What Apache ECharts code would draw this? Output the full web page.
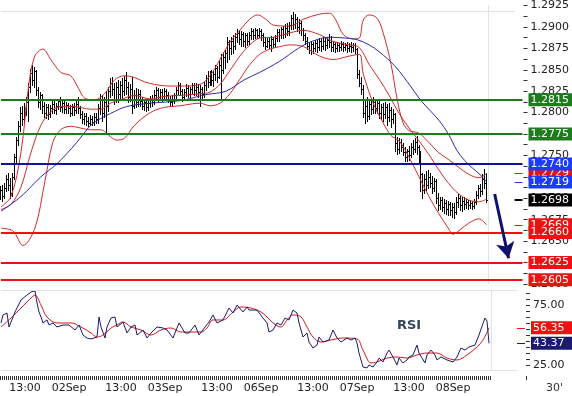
<!DOCTYPE html>
<html><head><meta charset="utf-8">
<script src="https://cdn.jsdelivr.net/npm/echarts@6/dist/echarts.min.js"></script>
<style>html,body{margin:0;padding:0;background:#fff}#c{width:572px;height:396px}</style>
</head><body><div id="c"></div>
<script>
// ---- data ----
const days = ['01Sep','02Sep','03Sep','06Sep','07Sep','08Sep'];
const firstSlot = 14;      // 01Sep 07:00 (30-minute slots)
const slotCount = 263;     // axis slots incl. empty space right of last bar
// bars: [open, close, low, high]
const bars = [
[1.2705,1.2710,1.2699,1.2714],[1.2710,1.2703,1.2697,1.2715],[1.2703,1.2712,1.2700,1.2718],[1.2712,1.2722,1.2708,1.2727],[1.2722,1.2716,1.2710,1.2730],
[1.2716,1.2706,1.2700,1.2724],[1.2706,1.2725,1.2703,1.2729],[1.2725,1.2748,1.2722,1.2752],[1.2748,1.2768,1.2742,1.2772],[1.2768,1.2784,1.2762,1.2790],
[1.2784,1.2800,1.2778,1.2806],[1.2800,1.2793,1.2786,1.2808],[1.2793,1.2805,1.2788,1.2811],[1.2805,1.2812,1.2797,1.2818],[1.2812,1.2830,1.2790,1.2835],
[1.2830,1.2846,1.2824,1.2851],[1.2846,1.2838,1.2832,1.2856],[1.2838,1.2848,1.2830,1.2853],[1.2848,1.2826,1.2820,1.2850],[1.2826,1.2812,1.2806,1.2830],
[1.2812,1.2820,1.2804,1.2824],[1.2820,1.2808,1.2800,1.2822],[1.2808,1.2800,1.2795,1.2812],[1.2800,1.2806,1.2794,1.2810],[1.2806,1.2798,1.2793,1.2810],
[1.2798,1.2805,1.2795,1.2809],[1.2805,1.2810,1.2800,1.2814],[1.2810,1.2803,1.2799,1.2813],[1.2803,1.2808,1.2798,1.2811],[1.2808,1.2813,1.2804,1.2816],
[1.2813,1.2806,1.2802,1.2818],[1.2806,1.2811,1.2801,1.2815],[1.2811,1.2804,1.2799,1.2813],[1.2804,1.2809,1.2800,1.2812],[1.2809,1.2805,1.2799,1.2811],
[1.2805,1.2800,1.2796,1.2809],[1.2800,1.2806,1.2797,1.2810],[1.2806,1.2803,1.2797,1.2811],[1.2803,1.2810,1.2799,1.2814],[1.2810,1.2805,1.2800,1.2818],
[1.2805,1.2798,1.2794,1.2808],[1.2798,1.2792,1.2788,1.2802],[1.2792,1.2796,1.2787,1.2800],[1.2796,1.2790,1.2786,1.2799],[1.2790,1.2788,1.2784,1.2795],
[1.2788,1.2793,1.2785,1.2797],[1.2793,1.2789,1.2785,1.2796],[1.2789,1.2795,1.2786,1.2799],[1.2795,1.2792,1.2788,1.2800],[1.2792,1.2805,1.2788,1.2810],
[1.2805,1.2816,1.2798,1.2822],[1.2816,1.2800,1.2790,1.2820],[1.2800,1.2812,1.2795,1.2818],[1.2812,1.2808,1.2777,1.2825],[1.2808,1.2825,1.2802,1.2830],
[1.2825,1.2835,1.2818,1.2840],[1.2835,1.2828,1.2820,1.2842],[1.2828,1.2815,1.2810,1.2834],[1.2815,1.2830,1.2812,1.2836],[1.2830,1.2822,1.2812,1.2838],
[1.2822,1.2832,1.2816,1.2837],[1.2832,1.2825,1.2815,1.2840],[1.2825,1.2838,1.2820,1.2843],[1.2838,1.2830,1.2822,1.2847],[1.2830,1.2818,1.2812,1.2836],
[1.2818,1.2828,1.2813,1.2833],[1.2828,1.2808,1.2799,1.2841],[1.2808,1.2820,1.2805,1.2826],[1.2820,1.2812,1.2806,1.2829],[1.2812,1.2822,1.2808,1.2828],
[1.2822,1.2814,1.2808,1.2826],[1.2814,1.2808,1.2804,1.2818],[1.2808,1.2812,1.2803,1.2816],[1.2812,1.2806,1.2802,1.2815],[1.2806,1.2811,1.2803,1.2815],
[1.2811,1.2816,1.2807,1.2819],[1.2816,1.2812,1.2808,1.2820],[1.2812,1.2820,1.2810,1.2826],[1.2820,1.2826,1.2815,1.2830],[1.2826,1.2818,1.2814,1.2829],
[1.2818,1.2824,1.2815,1.2828],[1.2824,1.2819,1.2814,1.2828],[1.2819,1.2825,1.2816,1.2829],[1.2825,1.2820,1.2815,1.2827],[1.2820,1.2816,1.2812,1.2824],
[1.2816,1.2812,1.2808,1.2819],[1.2812,1.2815,1.2808,1.2820],[1.2815,1.2820,1.2811,1.2823],[1.2820,1.2826,1.2816,1.2830],[1.2826,1.2832,1.2822,1.2836],
[1.2832,1.2825,1.2820,1.2835],[1.2825,1.2818,1.2814,1.2828],[1.2818,1.2824,1.2815,1.2827],[1.2824,1.2829,1.2819,1.2833],[1.2829,1.2822,1.2818,1.2832],
[1.2822,1.2827,1.2817,1.2830],[1.2827,1.2832,1.2822,1.2835],[1.2832,1.2826,1.2820,1.2834],[1.2826,1.2830,1.2820,1.2834],[1.2830,1.2824,1.2818,1.2833],
[1.2824,1.2828,1.2808,1.2832],[1.2828,1.2822,1.2816,1.2830],[1.2822,1.2832,1.2818,1.2836],[1.2832,1.2840,1.2826,1.2844],[1.2840,1.2836,1.2830,1.2848],
[1.2836,1.2844,1.2832,1.2849],[1.2844,1.2838,1.2832,1.2850],[1.2838,1.2845,1.2831,1.2848],[1.2845,1.2852,1.2838,1.2856],[1.2852,1.2842,1.2836,1.2854],
[1.2842,1.2855,1.2840,1.2860],[1.2855,1.2850,1.2816,1.2868],[1.2850,1.2865,1.2846,1.2871],[1.2865,1.2870,1.2852,1.2874],[1.2870,1.2882,1.2859,1.2888],
[1.2882,1.2875,1.2862,1.2885],[1.2875,1.2884,1.2868,1.2888],[1.2884,1.2878,1.2870,1.2891],[1.2878,1.2888,1.2874,1.2893],[1.2888,1.2893,1.2882,1.2897],
[1.2893,1.2886,1.2880,1.2896],[1.2886,1.2892,1.2878,1.2895],[1.2892,1.2884,1.2878,1.2894],[1.2884,1.2890,1.2876,1.2893],[1.2890,1.2883,1.2879,1.2893],
[1.2883,1.2890,1.2880,1.2894],[1.2890,1.2895,1.2886,1.2899],[1.2895,1.2890,1.2886,1.2898],[1.2890,1.2896,1.2887,1.2899],[1.2896,1.2891,1.2887,1.2898],
[1.2891,1.2895,1.2888,1.2899],[1.2895,1.2890,1.2885,1.2898],[1.2890,1.2882,1.2878,1.2893],[1.2882,1.2878,1.2874,1.2888],[1.2878,1.2884,1.2876,1.2887],
[1.2884,1.2879,1.2875,1.2888],[1.2879,1.2886,1.2872,1.2889],[1.2886,1.2880,1.2876,1.2888],[1.2880,1.2887,1.2877,1.2891],[1.2887,1.2894,1.2884,1.2898],
[1.2894,1.2890,1.2884,1.2897],[1.2890,1.2897,1.2887,1.2900],[1.2897,1.2892,1.2887,1.2901],[1.2892,1.2899,1.2888,1.2903],[1.2899,1.2895,1.2890,1.2905],
[1.2895,1.2902,1.2891,1.2906],[1.2902,1.2910,1.2898,1.2914],[1.2910,1.2903,1.2897,1.2917],[1.2903,1.2909,1.2899,1.2915],[1.2909,1.2900,1.2895,1.2911],
[1.2900,1.2905,1.2893,1.2909],[1.2905,1.2896,1.2890,1.2907],[1.2896,1.2890,1.2885,1.2899],[1.2890,1.2884,1.2880,1.2893],[1.2884,1.2878,1.2874,1.2888],
[1.2878,1.2873,1.2869,1.2882],[1.2873,1.2880,1.2868,1.2883],[1.2880,1.2875,1.2870,1.2882],[1.2875,1.2881,1.2872,1.2885],[1.2881,1.2876,1.2871,1.2886],
[1.2876,1.2883,1.2873,1.2887],[1.2883,1.2878,1.2872,1.2886],[1.2878,1.2884,1.2874,1.2888],[1.2884,1.2879,1.2873,1.2887],[1.2879,1.2885,1.2875,1.2888],
[1.2885,1.2882,1.2877,1.2892],[1.2882,1.2876,1.2872,1.2889],[1.2876,1.2880,1.2872,1.2883],[1.2880,1.2875,1.2871,1.2882],[1.2875,1.2879,1.2872,1.2882],
[1.2879,1.2876,1.2872,1.2881],[1.2876,1.2880,1.2873,1.2883],[1.2880,1.2877,1.2872,1.2882],[1.2877,1.2879,1.2873,1.2881],[1.2879,1.2875,1.2871,1.2882],
[1.2875,1.2878,1.2872,1.2881],[1.2878,1.2876,1.2871,1.2882],[1.2876,1.2879,1.2872,1.2881],[1.2879,1.2874,1.2870,1.2881],[1.2874,1.2845,1.2840,1.2875],
[1.2845,1.2835,1.2831,1.2850],[1.2835,1.2828,1.2822,1.2842],[1.2828,1.2800,1.2795,1.2832],[1.2800,1.2808,1.2788,1.2815],[1.2808,1.2796,1.2790,1.2818],
[1.2796,1.2810,1.2792,1.2815],[1.2810,1.2804,1.2798,1.2817],[1.2804,1.2812,1.2800,1.2818],[1.2812,1.2805,1.2799,1.2816],[1.2805,1.2811,1.2800,1.2815],
[1.2811,1.2800,1.2794,1.2814],[1.2800,1.2806,1.2792,1.2810],[1.2806,1.2798,1.2790,1.2811],[1.2798,1.2806,1.2794,1.2812],[1.2806,1.2795,1.2786,1.2810],
[1.2795,1.2803,1.2790,1.2811],[1.2803,1.2792,1.2783,1.2806],[1.2792,1.2798,1.2788,1.2804],[1.2798,1.2764,1.2755,1.2800],[1.2764,1.2758,1.2752,1.2772],
[1.2758,1.2766,1.2753,1.2770],[1.2766,1.2760,1.2755,1.2769],[1.2760,1.2754,1.2750,1.2765],[1.2754,1.2748,1.2744,1.2760],[1.2748,1.2755,1.2743,1.2758],
[1.2755,1.2750,1.2745,1.2761],[1.2750,1.2760,1.2748,1.2764],[1.2760,1.2757,1.2752,1.2768],[1.2757,1.2766,1.2754,1.2770],[1.2766,1.2760,1.2752,1.2773],
[1.2760,1.2746,1.2742,1.2762],[1.2746,1.2728,1.2708,1.2755],[1.2728,1.2710,1.2700,1.2730],[1.2710,1.2722,1.2706,1.2728],[1.2722,1.2716,1.2710,1.2732],
[1.2716,1.2725,1.2712,1.2733],[1.2725,1.2718,1.2713,1.2730],[1.2718,1.2712,1.2706,1.2726],[1.2712,1.2720,1.2708,1.2724],[1.2720,1.2700,1.2694,1.2722],
[1.2700,1.2692,1.2686,1.2706],[1.2692,1.2698,1.2687,1.2702],[1.2698,1.2690,1.2685,1.2701],[1.2690,1.2695,1.2683,1.2699],[1.2695,1.2688,1.2682,1.2698],
[1.2688,1.2693,1.2681,1.2697],[1.2693,1.2686,1.2680,1.2696],[1.2686,1.2690,1.2678,1.2695],[1.2690,1.2684,1.2677,1.2694],[1.2684,1.2696,1.2682,1.2702],
[1.2696,1.2700,1.2690,1.2705],[1.2700,1.2692,1.2686,1.2703],[1.2692,1.2697,1.2685,1.2701],[1.2697,1.2693,1.2688,1.2702],[1.2693,1.2696,1.2689,1.2699],
[1.2696,1.2692,1.2688,1.2698],[1.2692,1.2695,1.2689,1.2698],[1.2695,1.2691,1.2688,1.2697],[1.2691,1.2696,1.2689,1.2699],[1.2696,1.2704,1.2693,1.2708],
[1.2704,1.2712,1.2700,1.2715],[1.2712,1.2708,1.2703,1.2717],[1.2708,1.2722,1.2705,1.2728],[1.2722,1.2718,1.2712,1.2734],[1.2718,1.2698,1.2696,1.2730]
];
// indicator lines: [bar index, value]
const bbUpper = [[0,1.2690],[5,1.2702],[10,1.2753],[14,1.2833],[17,1.2866],[21,1.2874],[25,1.2862],[30,1.2847],[35,1.2843],[39,1.2828],[42,1.2817],[47,1.2815],[52,1.2822],[57,1.2838],[62,1.2843],[67,1.2841],[72,1.2836],[77,1.2833],[85,1.2831],[92,1.2831],[100,1.2833],[105,1.2843],[110,1.2862],[115,1.2882],[120,1.2896],[125,1.2909],[129,1.2914],[133,1.2909],[137,1.2902],[145,1.2901],[152,1.2909],[160,1.2915],[165,1.2916],[168,1.2909],[172,1.2891],[177,1.2886],[180,1.2887],[182,1.2908],[185,1.2914],[189,1.2910],[192,1.2893],[196,1.2856],[199,1.2816],[202,1.2788],[205,1.2779],[210,1.2776],[215,1.2765],[220,1.2753],[225,1.2745],[230,1.2736],[235,1.2728],[240,1.2724],[244,1.2729]];
const bbMid = [[0,1.2687],[5,1.2693],[10,1.2713],[15,1.2753],[20,1.2785],[25,1.2801],[30,1.2807],[37,1.2807],[45,1.2804],[50,1.2804],[55,1.2811],[60,1.2815],[67,1.2820],[75,1.2816],[82,1.2819],[90,1.2820],[100,1.2822],[105,1.2824],[110,1.2833],[115,1.2849],[120,1.2866],[125,1.2879],[130,1.2887],[137,1.2888],[145,1.2893],[152,1.2896],[160,1.2891],[167,1.2883],[175,1.2879],[180,1.2876],[185,1.2856],[190,1.2839],[195,1.2820],[200,1.2799],[205,1.2782],[210,1.2767],[215,1.2751],[220,1.2733],[225,1.2717],[230,1.2705],[235,1.2698],[240,1.2696],[244,1.2699]];
const bbLower = [[0,1.2665],[6,1.2662],[11,1.2645],[17,1.2665],[22,1.2719],[26,1.2765],[30,1.2780],[35,1.2784],[40,1.2782],[45,1.2780],[50,1.2780],[55,1.2772],[58,1.2768],[62,1.2770],[67,1.2785],[75,1.2800],[82,1.2806],[90,1.2808],[100,1.2811],[105,1.2808],[110,1.2811],[115,1.2822],[120,1.2839],[125,1.2856],[130,1.2868],[135,1.2874],[140,1.2877],[145,1.2879],[152,1.2877],[160,1.2866],[167,1.2862],[175,1.2866],[180,1.2868],[182,1.2845],[187,1.2811],[192,1.2788],[196,1.2773],[200,1.2767],[205,1.2748],[210,1.2725],[215,1.2702],[220,1.2682],[225,1.2664],[227,1.2658],[231,1.2664],[235,1.2671],[240,1.2676],[244,1.2669]];
const ma = [[0,1.2685],[10,1.2702],[20,1.2725],[28,1.2740],[33,1.2752],[38,1.2765],[45,1.2785],[50,1.2793],[55,1.2799],[63,1.2807],[75,1.2811],[90,1.2814],[103,1.2821],[113,1.2825],[122,1.2838],[130,1.2847],[140,1.2860],[150,1.2876],[156,1.2883],[165,1.2888],[173,1.2887],[179,1.2885],[185,1.2879],[190,1.2871],[198,1.2854],[206,1.2830],[211,1.2814],[220,1.2791],[225,1.2774],[229,1.2756],[233,1.2744],[237,1.2735],[241,1.2727],[244,1.2719]];
const rsi = [[0,60.4],[1,67.1],[3,68.7],[4,57.0],[6,65.4],[7,69.6],[10,79.6],[13,83.8],[15,86.3],[17,87.2],[18,77.1],[19,69.6],[20,65.4],[21,60.4],[23,62.9],[24,58.7],[26,60.4],[28,57.0],[31,58.7],[34,58.7],[37,54.5],[39,58.7],[41,50.3],[43,47.8],[45,47.0],[48,48.6],[49,65.4],[50,57.0],[52,47.8],[53,57.0],[55,64.5],[57,65.4],[58,57.0],[61,61.2],[63,52.0],[65,57.0],[67,58.7],[68,50.3],[71,54.5],[73,47.8],[75,52.0],[78,57.0],[81,56.2],[83,54.5],[86,47.8],[89,60.4],[92,52.0],[94,52.0],[97,58.7],[99,50.3],[102,57.0],[104,61.2],[106,67.1],[108,60.4],[111,62.9],[113,69.6],[114,72.9],[116,68.7],[118,75.4],[119,73.8],[121,69.6],[123,73.8],[124,71.2],[128,71.2],[129,69.6],[131,64.5],[133,60.4],[134,52.8],[136,54.5],[138,60.4],[140,58.7],[142,64.5],[144,62.9],[146,71.2],[148,68.7],[149,60.4],[151,48.6],[153,52.0],[154,44.4],[156,39.4],[158,41.9],[159,48.6],[161,44.4],[164,46.1],[166,54.5],[168,47.8],[170,44.4],[173,47.8],[175,46.1],[177,47.8],[178,43.6],[179,35.2],[181,23.5],[183,22.7],[184,25.2],[186,23.5],[188,27.7],[189,31.0],[191,27.7],[193,35.2],[194,37.7],[196,31.9],[198,25.2],[199,31.0],[201,26.9],[203,29.4],[204,31.9],[206,33.6],[208,41.9],[209,35.2],[212,26.9],[213,33.6],[215,37.7],[217,33.6],[218,29.4],[220,31.9],[223,29.4],[226,27.7],[228,31.9],[230,39.4],[232,37.7],[234,40.3],[237,41.9],[239,50.3],[241,60.0],[242,64.5],[243,62.0],[244,43.37]];
const rsiMa = [[0,57.0],[5,64.5],[10,72.9],[15,81.3],[17,83.8],[20,75.4],[23,65.4],[28,60.4],[35,60.4],[40,57.0],[45,52.0],[48,48.6],[51,50.3],[55,56.2],[58,58.7],[61,61.2],[65,57.0],[70,54.5],[75,50.3],[80,54.5],[85,56.2],[90,52.8],[95,52.8],[100,52.8],[103,56.2],[106,62.9],[111,62.9],[116,69.6],[120,73.8],[125,72.9],[130,69.6],[133,65.4],[136,60.4],[140,57.0],[143,62.9],[146,67.1],[150,65.4],[153,57.0],[156,48.6],[160,44.4],[165,46.1],[171,47.8],[178,47.0],[181,37.7],[185,26.9],[188,27.7],[193,31.0],[198,31.9],[203,31.0],[208,33.6],[213,35.2],[218,35.2],[223,31.0],[228,29.4],[233,33.6],[238,40.3],[241,46.1],[244,56.35]];
const resistanceLevels = [1.2815, 1.2775];
const pivotLevels = [1.2740];
const supportLevels = [1.2660, 1.2625, 1.2605];
const lastUpper = 1.2729, lastMa = 1.2719, lastClose = 1.2698, lastLower = 1.2669;
const lastRsiMa = 56.35, lastRsi = 43.37;
const arrowFrom = [248, 1.2705], arrowTo = [255, 1.2630];
const priceTicks = {min: 1.2600, max: 1.2925, step: 0.0025};
const rsiLabels = [25, 75];
const rsiTicks = [25,30,35,40,45,50,55,60,65,70,75,80,85];

// ---- build ----
const cats = [];
(function(){
  let n = 0;
  for (const d of days) {
    for (let s = 0; s < 48; s++) {
      if (d === days[0] && s < firstSlot) continue;
      if (n >= slotCount) return;
      const hh = String(Math.floor(s/2)).padStart(2,'0');
      const mm = s % 2 ? '30' : '00';
      cats.push(d + ' ' + hh + ':' + mm);
      n++;
    }
  }
})();
const lastIdx = bars.length - 1;
const endIdx = cats.length - 1;
const FONT = 'DejaVu Sans';
const boxLabel = (txt, bg) => ({show:true, position:'end', formatter: txt, color:'#fff', backgroundColor: bg,
  fontSize: 11, fontFamily: FONT, lineHeight: 11, padding:[1,12,1,2], distance: 6});
const seg = (x0, x1, v, col, w, label) => [
  {coord:[cats[x0], v], lineStyle:{color: col, width: w, type:'solid'}, label: label || {show:false}},
  {coord:[cats[x1], v]}];
const fullLevel = (v, col, bg) => seg(0, endIdx, v, col, 2, boxLabel(v.toFixed(4), bg));
const shortLevel = (v, col, bg, dec, w) => seg(258, endIdx, v, col, w || 1, boxLabel(v.toFixed(dec), bg));
const frame = (v) => seg(0, 258, v, '#dde3ea', 1);
const vline = (i, a, b) => [{coord:[cats[i], a], lineStyle:{color:'#dde3ea', width:1, type:'solid'}, label:{show:false}}, {coord:[cats[i], b]}];
const ML = (data) => ({silent:true, symbol:'none', animation:false, data: data});

const chart = echarts.init(document.getElementById('c'), null, {renderer:'canvas'});
chart.setOption({
  animation: false,
  backgroundColor: '#fff',
  title: [
    {text:'RSI', left: 397, top: 319, padding: 0, textStyle:{fontSize: 13, fontWeight:'bold', color:'#33475b', fontFamily: FONT}},
    {text:"30'", left: 546, top: 383, padding: 0, textStyle:{fontSize: 11, fontWeight:'normal', color:'#333', fontFamily: FONT}}
  ],
  grid: [
    {left: 0, right: 46, top: 0, height: 284},
    {left: 0, right: 46, top: 290, height: 80}
  ],
  xAxis: [
    {type:'category', gridIndex: 0, data: cats, boundaryGap: true, show: false},
    {type:'category', gridIndex: 1, data: cats, boundaryGap: true, offset: 6,
     axisLine:{show:false},
     axisTick:{show:true, length: 4, lineStyle:{color:'#333'}, interval: (i) => i <= lastIdx + 1},
     axisLabel:{fontSize: 11, fontFamily: FONT, color:'#222', margin: 7,
       interval: (i, v) => i <= lastIdx && (v.endsWith(' 00:00') || v.endsWith(' 13:00')),
       formatter: (v) => v.endsWith(' 00:00') ? v.slice(0,5) : v.slice(6)},
     splitLine:{show:false}}
  ],
  yAxis: [
    {type:'value', gridIndex: 0, position:'right', min: priceTicks.min, max: priceTicks.max, interval: priceTicks.step,
     axisLine:{show:false}, splitLine:{show:false},
     axisTick:{show:true, length: 4, lineStyle:{color:'#333'}},
     minorTick:{show:true, splitNumber: 2, length: 4, lineStyle:{color:'#333'}},
     axisLabel:{fontSize: 11, fontFamily: FONT, color:'#222', margin: 7, padding:[4,0,0,0], formatter: (v) => v.toFixed(4)}},
    {type:'value', gridIndex: 1, position:'right', min: 21, max: 88,
     axisLine:{show:false}, splitLine:{show:false},
     axisTick:{show:true, length: 4, lineStyle:{color:'#333'}, customValues: rsiTicks},
     axisLabel:{fontSize: 11, fontFamily: FONT, color:'#222', margin: 7, padding:[4,0,0,0], customValues: rsiLabels, formatter: (v) => v.toFixed(2)}}
  ],
  series: [
    {type:'custom', name:'price', xAxisIndex: 0, yAxisIndex: 0, z: 2,
     data: bars.map((b, i) => [i, b[0], b[1], b[2], b[3]]),
     encode: {x: 0, y: [1, 2, 3, 4]},
     renderItem: (params, api) => {
       const i = api.value(0);
       const o = api.coord([i, api.value(1)]);
       const c = api.coord([i, api.value(2)]);
       const l = api.coord([i, api.value(3)]);
       const h = api.coord([i, api.value(4)]);
       const x = Math.floor(h[0]);
       const yh = Math.round(h[1]), yl = Math.round(l[1]);
       const st = {fill:'#000'};
       return {type:'group', children:[
         {type:'rect', shape:{x:x, y:yh, width:1, height:Math.max(1, yl - yh + 1)}, style: st},
         {type:'rect', shape:{x:x-1, y:Math.round(o[1]), width:1, height:1}, style: st},
         {type:'rect', shape:{x:x+1, y:Math.round(c[1]), width:1, height:1}, style: st}
       ]};
     },
     markLine: ML([frame(1.2918), vline(lastIdx + 1, priceTicks.min, priceTicks.max)])},
    {type:'line', name:'bbUpper', data: bbUpper, showSymbol:false, smooth:0.35, z:3,
     lineStyle:{color:'#d42a2a', width:1}, animation:false,
     markLine: ML([shortLevel(lastUpper, '#ee1111', '#ee1111', 4), shortLevel(lastLower, '#ee1111', '#ee1111', 4)])},
    {type:'line', name:'bbMid', data: bbMid, showSymbol:false, smooth:0.35, z:3,
     lineStyle:{color:'#d42a2a', width:1}, animation:false},
    {type:'line', name:'bbLower', data: bbLower, showSymbol:false, smooth:0.35, z:3,
     lineStyle:{color:'#d42a2a', width:1}, animation:false,
     markLine: ML([shortLevel(lastClose, '#000', '#000', 4, 2)])},
    {type:'line', name:'ma', data: ma, showSymbol:false, smooth:0.35, z:4,
     lineStyle:{color:'#2a2aa8', width:1}, animation:false,
     markLine: ML([
       shortLevel(lastMa, '#1a3cff', '#1a3cff', 4),
       ...resistanceLevels.map(v => fullLevel(v, '#1e7b1e', '#1e7b1e')),
       ...pivotLevels.map(v => fullLevel(v, '#14149a', '#1a3cff')),
       ...supportLevels.map(v => fullLevel(v, '#ee1111', '#ee1111')),
       [{coord:[cats[arrowFrom[0]], arrowFrom[1]], symbol:'none', lineStyle:{color:'#10106e', width:3, type:'solid'}, label:{show:false}},
        {coord:[cats[arrowTo[0]], arrowTo[1]], symbol:'arrow', symbolSize:[14,16]}]
     ])},
    {type:'line', name:'rsiMa', xAxisIndex: 1, yAxisIndex: 1, data: rsiMa, showSymbol:false, smooth:0.35,
     lineStyle:{color:'#d41a1a', width:1}, animation:false,
     markLine: ML([
       shortLevel(lastRsiMa, '#ee1111', '#ee1111', 2),
       frame(88), frame(21), vline(lastIdx + 1, 21, 88)
     ])},
    {type:'line', name:'rsi', xAxisIndex: 1, yAxisIndex: 1, data: rsi, showSymbol:false,
     lineStyle:{color:'#1a1a6e', width:1}, animation:false, z: 3,
     markLine: ML([shortLevel(lastRsi, '#1a1a6e', '#1a1a6e', 2)])}
  ]
});
</script></body></html>
